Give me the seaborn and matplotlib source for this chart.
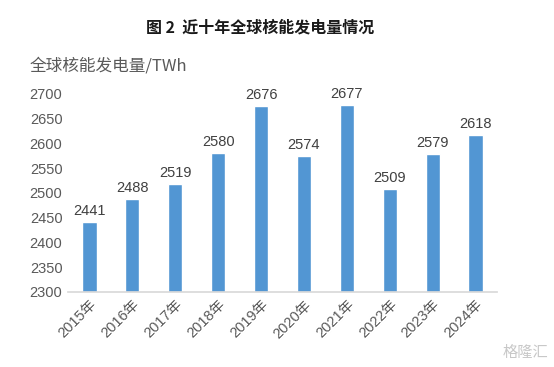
import matplotlib
matplotlib.use("Agg")
import matplotlib.pyplot as plt
import seaborn as sns
import pandas as pd

years = ["2015年", "2016年", "2017年", "2018年", "2019年", "2020年", "2021年", "2022年", "2023年", "2024年"]
values = [2441, 2488, 2519, 2580, 2676, 2574, 2677, 2509, 2579, 2618]
yticks = [2300, 2350, 2400, 2450, 2500, 2550, 2600, 2650, 2700]

sns.set_theme(style="white")
plt.rcParams['font.family'] = ['Liberation Sans', 'Noto Sans CJK SC', 'DejaVu Sans']

df = pd.DataFrame({"year": years, "value": values})
fig = plt.figure(figsize=(5.54, 3.67), dpi=100)
ax = fig.add_axes([0.1227, 0.2044, 0.7743, 0.5395])
sns.barplot(data=df, x="year", y="value", color="#5296D3", width=0.33, ax=ax, saturation=1)
ax.set_ylim(2300, 2700)
ax.set_xlim(-0.5, 9.5)
ax.set_yticks(yticks)
ax.set_yticklabels([str(t) for t in yticks], color="#595959", fontsize=10.5)
ax.set_xticks(range(len(years)))
ax.set_xticklabels(years, rotation=45, ha="right", rotation_mode="anchor", color="#595959", fontsize=10.5)
ax.tick_params(axis="both", length=0, pad=4)
ax.set_xlabel("")
ax.set_ylabel("")
for s in ["top", "right", "left"]:
    ax.spines[s].set_visible(False)
ax.spines["bottom"].set_color("#D9D9D9")
for i, v in enumerate(values):
    ax.text(i, v + 8, str(v), ha="center", va="bottom", fontsize=10.5, color="#404040")

fig.text(0.47, 0.925, "图 2  近十年全球核能发电量情况", ha="center", va="center", fontsize=11.5,
         fontweight="bold", color="#1a1a1a", family=['Noto Sans CJK SC', 'DejaVu Sans'])
fig.text(0.054, 0.82, "全球核能发电量/TWh", ha="left", va="center", fontsize=12, color="#595959",
         family=['Noto Sans CJK SC', 'DejaVu Sans'])
fig.text(0.99, 0.04, "格隆汇", ha="right", va="center", fontsize=11, color="#C8C8C8",
         family=['Noto Sans CJK SC', 'DejaVu Sans'])
fig.savefig("out.png", dpi=100)
